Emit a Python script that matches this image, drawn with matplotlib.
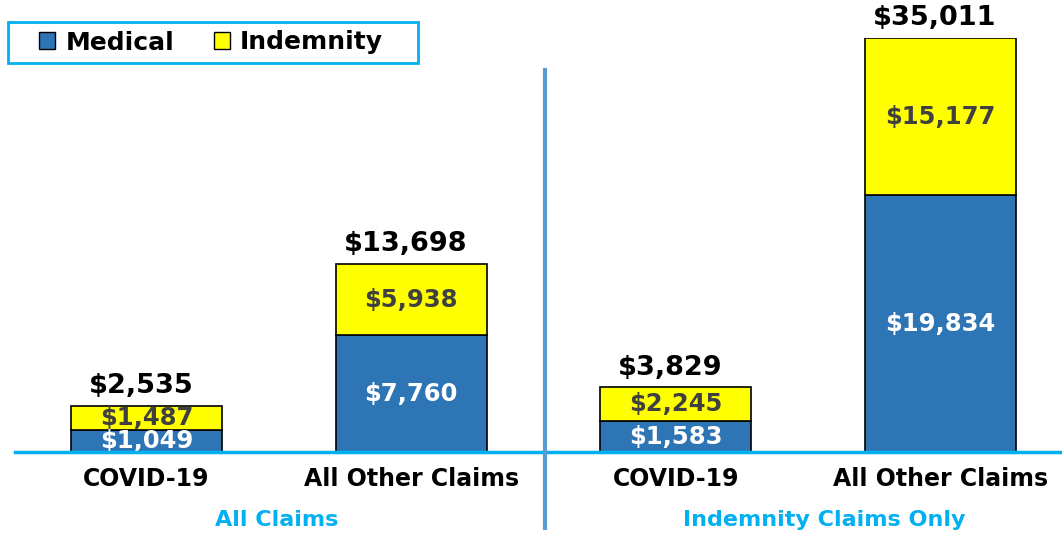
import numpy as np
import matplotlib.pyplot as plt
from matplotlib.lines import Line2D
from matplotlib.patches import Patch, Rectangle

categories = ['COVID-19', 'All Other Claims', 'COVID-19', 'All Other Claims']
groups = ['All Claims', 'Indemnity Claims Only']
medical = [1049, 7760, 1583, 19834]
indemnity = [1487, 5938, 2245, 15177]
totals = [2535, 13698, 3829, 35011]

MED_COLOR = '#2E75B6'
IND_COLOR = '#FFFF00'
ACCENT = '#00B0F0'

plt.rcParams['font.family'] = ['DejaVu Sans']

fig = plt.figure(figsize=(10.62, 5.35), dpi=100)
ax = fig.add_axes([15 / 1062, 83 / 535, 1047 / 1062, 414 / 535])

# the source chart is not drawn to a linear scale; a power scale mimics it
p = 0.84
fwd = lambda v: np.sign(v) * np.abs(v) ** p
inv = lambda v: np.sign(v) * np.abs(v) ** (1 / p)
ax.set_yscale('function', functions=(fwd, inv))
ax.set_ylim(0, max(totals))

x = np.arange(len(categories))
w = 0.57
ax.bar(x, medical, w, color=MED_COLOR, edgecolor='black', linewidth=1.2, zorder=2)
ax.bar(x, indemnity, w, bottom=medical, color=IND_COLOR, edgecolor='black',
       linewidth=1.2, zorder=2)
ax.set_xlim(-0.497, 3.459)

for xi, m, i, t in zip(x, medical, indemnity, totals):
    ym = inv(fwd(m) / 2)
    yi = inv((fwd(m) + fwd(m + i)) / 2)
    ax.text(xi, ym, f'${m:,}', ha='center', va='center', color='white',
            fontsize=17.5, fontweight='bold', zorder=3)
    ax.text(xi, yi, f'${i:,}', ha='center', va='center', color='#404040',
            fontsize=17.5, fontweight='bold', zorder=3)
    ax.annotate(f'${t:,}', (xi, t), xytext=(-4, 5), textcoords='offset points',
                ha='center', va='bottom', fontsize=19.5, fontweight='bold',
                annotation_clip=False)

ax.set_xticks(x, categories, fontsize=17, fontweight='bold')
ax.tick_params(axis='x', length=0, pad=11)
ax.set_yticks([])
for s in ['left', 'right', 'top']:
    ax.spines[s].set_visible(False)
ax.spines['bottom'].set_color(ACCENT)
ax.spines['bottom'].set_linewidth(2.5)
ax.spines['bottom'].set_zorder(4)

for gx, g in zip([0.49, 2.56], groups):
    ax.text(gx, -0.165, g, transform=ax.get_xaxis_transform(), ha='center',
            va='center', color=ACCENT, fontsize=16, fontweight='bold')

fig.add_artist(Line2D([545 / 1062, 545 / 1062], [7 / 535, 465 / 535],
                      color='#5B9BD5', linewidth=3))

# legend box
fig.add_artist(Rectangle((8 / 1062, 1 - 63 / 535), 410 / 1062, 41 / 535,
                         transform=fig.transFigure, fill=False,
                         edgecolor=ACCENT, linewidth=2))
handles = [Patch(facecolor=MED_COLOR, edgecolor='black'),
           Patch(facecolor=IND_COLOR, edgecolor='black')]
fig.legend(handles, ['Medical', 'Indemnity'], loc='center left',
           bbox_to_anchor=(39 / 1062, 1 - 42.5 / 535), ncol=2,
           prop={'weight': 'bold', 'size': 18}, handlelength=0.65,
           handleheight=0.65, handletextpad=0.4, columnspacing=1.6,
           borderpad=0, borderaxespad=0, frameon=False)

fig.savefig('out.png', dpi=100)
